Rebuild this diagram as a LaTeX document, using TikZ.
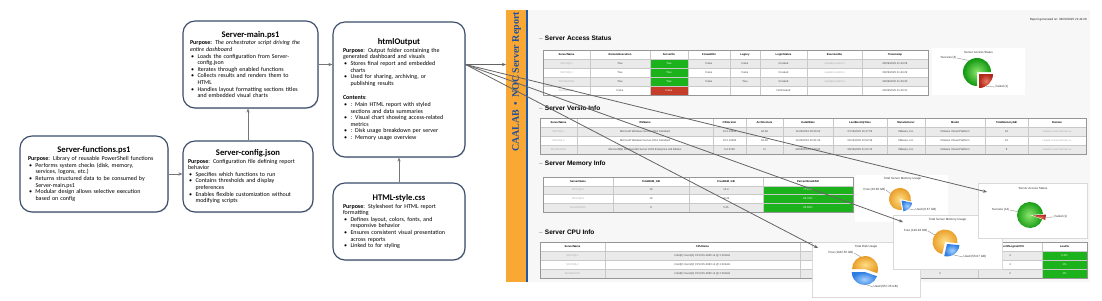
\documentclass[tikz,border=0pt]{standalone}
\usepackage{fontspec}
\setmainfont{Carlito}
\newfontfamily\arialf{Liberation Sans}
\newfontfamily\timesf{Liberation Serif}
\usetikzlibrary{arrows.meta,calc,shadows}

\definecolor{cardline}{RGB}{58,76,106}
\definecolor{connc}{RGB}{118,118,118}
\definecolor{bandorange}{RGB}{250,168,52}
\definecolor{bandblue}{RGB}{32,88,166}
\definecolor{bandtext}{RGB}{30,78,160}
\definecolor{pagebg}{RGB}{247,247,247}
\definecolor{okgreen}{RGB}{28,178,28}
\definecolor{badred}{RGB}{196,62,42}
\definecolor{rowalt}{RGB}{234,234,234}
\definecolor{gridc}{RGB}{200,200,200}
\definecolor{tabborder}{RGB}{150,150,150}
\definecolor{celltext}{RGB}{70,70,70}
\definecolor{blurtext}{RGB}{175,175,175}
\definecolor{gIn}{RGB}{140,230,110}
\definecolor{gOut}{RGB}{15,150,15}
\definecolor{rIn}{RGB}{235,120,100}
\definecolor{rOut}{RGB}{175,40,25}
\definecolor{oIn}{RGB}{255,222,135}
\definecolor{oOut}{RGB}{232,155,35}
\definecolor{bIn}{RGB}{165,208,255}
\definecolor{bOut}{RGB}{45,125,225}

\newcommand\cardtitle[1]{{\centering\fontsize{8.6}{9}\selectfont\bfseries #1\par}\vspace{1.2pt}}
\newcommand\bitem[1]{\par\noindent\hangindent=7.5pt\hangafter=1\makebox[7.5pt][l]{\hspace{1pt}\textbullet}#1}
\newcommand\bl[1]{\textcolor{blurtext}{#1}}
\newcommand\wh[1]{\textcolor{white}{#1}}
\newcommand\trow[3]{\foreach \cx/\cv [count=\ci] in {#3} {\node[cell] (#1-\ci) at (\cx,#2) {\cv};}}
\newcommand\thead[3]{\foreach \cx/\cv [count=\ci] in {#3} {\node[hcell] (#1-\ci) at (\cx,#2) {\cv};}}

\tikzset{
  card/.style={draw=cardline, line width=1.15pt, rounded corners=12pt, fill=white,
    inner sep=0pt, align=left, font=\fontsize{6}{6.6}\selectfont,
    drop shadow={opacity=0.25, shadow xshift=0.8pt, shadow yshift=-1pt}},
  conn/.style={draw=connc, line width=0.9pt, -{Stealth[length=4pt,width=3.2pt]}},
  fan/.style={draw=connc!85!black, line width=0.8pt, -{Stealth[length=4pt,width=3.2pt]}},
  cell/.style={font=\arialf\fontsize{2.7}{3}\selectfont, text=celltext, inner sep=0pt},
  hcell/.style={font=\arialf\bfseries\fontsize{2.7}{3}\selectfont, text=black, inner sep=0pt},
  sec/.style={font=\arialf\bfseries\fontsize{6.5}{7}\selectfont, anchor=west, inner sep=0pt},
  grid/.style={draw=gridc, line width=0.35pt},
  tbase/.style={fill=white, drop shadow={opacity=0.3, shadow xshift=0.8pt, shadow yshift=-0.8pt}},
  tframe/.style={draw=tabborder, line width=0.8pt},
  chartS/.style={fill=white, inner sep=0pt, anchor=north west},
  chartB/.style={chartS, draw=black!15, line width=0.4pt,
    drop shadow={opacity=0.35, shadow xshift=1.2pt, shadow yshift=-1.2pt}},
  clabel/.style={font=\arialf\fontsize{3}{3.5}\selectfont, inner sep=0.4pt, text=black!80},
  leader/.style={draw=black!55, line width=0.3pt},
  pieG/.style={inner color=gIn, outer color=gOut},
  pieR/.style={inner color=rIn, outer color=rOut},
  pieO/.style={inner color=oIn, outer color=oOut},
  pieB/.style={inner color=bIn, outer color=bOut},
}

\begin{document}
\begin{tikzpicture}[x=1pt,y=-1pt]
\useasboundingbox (0,0) rectangle (1102,300);
\fill[white] (0,0) rectangle (1102,300);

% ---------------- cards ----------------
\node[card, text width=132pt, minimum width=148pt, minimum height=76pt] (funcs) at (94,174) {%
\cardtitle{Server-functions.ps1}
\noindent\textbf{Purpose}: Library of reusable PowerShell functions
\bitem{Performs system checks (disk, memory,\newline services, logons, etc.)}
\bitem{Returns structured data to be consumed by\newline Server-main.ps1}
\bitem{Modular design allows selective execution\newline based on config}\par\vspace{3pt}};

\node[card, text width=120pt, minimum width=130pt, minimum height=71pt] (config) at (248,176.5) {%
\cardtitle{Server-config.json}
\noindent\textbf{Purpose}: Configuration file defining report\newline behavior
\bitem{Specifies which functions to run}
\bitem{Contains thresholds and display\newline preferences}
\bitem{Enables flexible customization without\newline modifying scripts}\par\vspace{3pt}};

\node[card, text width=121pt, minimum width=135pt, minimum height=87pt] (main) at (250.5,64.5) {%
\cardtitle{Server-main.ps1}
\noindent\textbf{Purpose:} \textit{The orchestrator script driving the\newline entire dashboard}
\bitem{Loads the configuration from Server-\newline config.json}
\bitem{Iterates through enabled functions}
\bitem{Collects results and renders them to\newline HTML}
\bitem{Handles layout formatting sections titles\newline and embedded visual charts}\par\vspace{6pt}};

\node[card, text width=112pt, minimum width=132pt, minimum height=135pt] (htmlout) at (399,89.5) {%
\cardtitle{htmlOutput}
\noindent\textbf{Purpose}: Output folder containing the\newline generated dashboard and visuals
\bitem{Stores final report and embedded\newline charts}
\bitem{Used for sharing, archiving, or\newline publishing results}
\par\vspace{8pt}\noindent\textbf{Contents}:
\bitem{: Main HTML report with styled\newline sections and data summaries}
\bitem{: Visual chart showing access-related\newline metrics}
\bitem{: Disk usage breakdown per server}
\bitem{: Memory usage overview}\par\vspace{5pt}};

\node[card, text width=112pt, minimum width=132pt, minimum height=77pt] (css) at (399,221.5) {%
\cardtitle{HTML-style.css}
\noindent\textbf{Purpose}: Stylesheet for HTML report\newline formatting
\bitem{Defines layout, colors, fonts, and\newline responsive behavior}
\bitem{Ensures consistent visual presentation\newline across reports}
\bitem{Linked to for styling}};

% ---------------- report screenshot ----------------
\node[fill=pagebg, minimum width=563pt, minimum height=272pt, anchor=north west, inner sep=0pt] (report) at (527,10) {};
\node[fill=bandorange, minimum width=20pt, minimum height=272pt, anchor=north west, inner sep=0pt] (band) at (506,10) {};
\fill[bandblue] (525.5,10) rectangle (527.5,282);
\node[rotate=90, font=\timesf\bfseries\fontsize{10}{12}\selectfont, text=bandtext, inner sep=0pt] (bandtitle) at (516.5,82) {CAALAB \,•\, NOC Server Report};

\node[cell, anchor=east, font=\arialf\fontsize{3}{3.5}\selectfont, text=black!85] (gen) at (1087,20) {Report generated on: 08/29/2025 21:44:28};

\node[sec] (sec1) at (539,38) {{\mdseries\color{gray}–}\,\,Server Access Status};
\node[sec] (sec2) at (539,108) {{\mdseries\color{gray}–}\,\,Server Versio Info};
\node[sec] (sec3) at (539,164) {{\mdseries\color{gray}–}\,\,Server Memory Info};
\node[sec] (sec4) at (539,232) {{\mdseries\color{gray}–}\,\,Server CPU Info};

% Table 1: access
\path[tbase] (543,50) rectangle (928,95);
\fill[rowalt] (543,59) rectangle (928,68);
\fill[rowalt] (543,77) rectangle (928,86);
\fill[okgreen] (650,59) rectangle (688,86);
\fill[badred] (650,86) rectangle (688,95);
\foreach \gx in {590,650,688,730,760,807,862} \draw[grid] (\gx,50) -- (\gx,95);
\foreach \gy in {59,68,77,86} \draw[grid] (543,\gy) -- (928,\gy);
\draw[tframe] (543,50) rectangle (928,95);
\thead{ta0}{54.5}{566.5/ServerName, 620/RemoteExecution, 669/ServerOn, 709/FirewallOn, 745/Legacy, 783.5/LoginStatus, 834.5/ExecutedAs, 895/Timestamp}
\trow{ta1}{63.5}{566.5/{\bl{SRVSQL1}}, 620/True, 669/{\wh{True}}, 709/False, 745/False, 783.5/Created, 834.5/{\bl{caalab\textbackslash svcadmin}}, 895/{08/29/2025 21:44:28}}
\trow{ta2}{72.5}{566.5/{\bl{SRVSQL2}}, 620/True, 669/{\wh{True}}, 709/False, 745/False, 783.5/Created, 834.5/{\bl{caalab\textbackslash svcadmin}}, 895/{08/29/2025 21:44:29}}
\trow{ta3}{81.5}{566.5/{\bl{DevWin2003}}, 620/True, 669/{\wh{True}}, 709/False, 745/True, 783.5/Created, 834.5/{\bl{caalab\textbackslash svcadmin}}, 895/{08/29/2025 21:44:30}}
\trow{ta4}{90.5}{566.5/{\bl{DevWin2012}}, 620/False, 669/{\wh{False}}, 783.5/NotCreated, 895/{08/29/2025 21:44:31}}

% small access chart
\node[chartS, minimum width=93pt, minimum height=47pt] (accS) at (932,48) {};
\node[clabel] (accS-t) at (978.5,52.5) {Server Access Status};
\coordinate (accS-c) at (977,72);
\shade[pieG] (accS-c) -- ++(90:14) arc[start angle=90,end angle=360,radius=14] -- cycle;
\shade[pieR] ($(accS-c)+(2,2)$) -- ++(0:14) arc[start angle=0,end angle=90,radius=14] -- cycle;
\node[clabel, anchor=east] (accS-l1) at (957,58) {Success (3)};
\draw[leader] (accS-l1.east) -- ($(accS-c)+(235:14)$);
\node[clabel, anchor=west] (accS-l2) at (995,87) {Failed (1)};
\draw[leader] (accS-l2.west) -- ($(accS-c)+(2,2)+(60:14)$);

% Table 2: version
\path[tbase] (540,118) rectangle (1086,154);
\fill[rowalt] (540,127) rectangle (1086,136);
\fill[rowalt] (540,145) rectangle (1086,154);
\foreach \gx in {577,713,746,783,833,887,925,985,1028} \draw[grid] (\gx,118) -- (\gx,154);
\foreach \gy in {127,136,145} \draw[grid] (540,\gy) -- (1086,\gy);
\draw[tframe] (540,118) rectangle (1086,154);
\thead{tb0}{122.5}{558.5/ServerName, 645/OSName, 729.5/OSVersion, 764.5/Architecture, 808/InstallDate, 860/LastBootUpTime, 906/Manufacturer, 955/Model, 1006.5/TotalMemoryGB, 1057/Domain}
\trow{tb1}{131.5}{558.5/{\bl{SRVSQL1}}, 645/Microsoft Windows Server 2016 Standard, 729.5/10.0.14393, 764.5/64-bit, 808/{11/29/2016 09:25:52}, 860/{07/16/2025 16:17:55}, 906/{VMware, Inc.}, 955/VMware Virtual Platform, 1006.5/16, 1057/{\bl{caalab.ocean.domain.xx}}}
\trow{tb2}{140.5}{558.5/{\bl{SRVSQL2}}, 645/Microsoft Windows Server 2016 Standard, 729.5/10.0.14393, 764.5/64-bit, 808/{11/29/2016 09:41:26}, 860/{06/12/2025 00:52:58}, 906/{VMware, Inc.}, 955/VMware Virtual Platform, 1006.5/16, 1057/{\bl{caalab.ocean.domain.xx}}}
\trow{tb3}{149.5}{558.5/{\bl{DevWin2003}}, 645/Microsoft(R) Windows(R) Server 2003 Enterprise x64 Edition, 729.5/5.2.3790, 764.5/N/A, 808/{08/08/2023 14:29:20}, 860/{08/19/2025 21:02:15}, 906/{VMware, Inc.}, 955/VMware Virtual Platform, 1006.5/8, 1057/{\bl{caalab.ocean.domain.xx}}}

% Table 3: memory
\path[tbase] (543,177) rectangle (853,212);
\fill[rowalt] (543,186) rectangle (853,194);
\fill[rowalt] (543,203) rectangle (853,212);
\fill[okgreen] (763,186) rectangle (853,212);
\foreach \gx in {613,689,763} \draw[grid] (\gx,177) -- (\gx,212);
\foreach \gy in {186,194,203} \draw[grid] (543,\gy) -- (853,\gy);
\draw[tframe] (543,177) rectangle (853,212);
\thead{tc0}{181.5}{578/ServerName, 651/TotalRAM\_GB, 726/FreeRAM\_GB, 808/PercentFreeRAM}
\trow{tc1}{190}{578/{\bl{SRVSQL1}}, 651/16, 726/12.4, 808/{\wh{77.47\%}}}
\trow{tc2}{198.5}{578/{\bl{SRVSQL2}}, 651/16, 726/13.24, 808/{\wh{82.74\%}}}
\trow{tc3}{207.5}{578/{\bl{DevWin2003}}, 651/8, 726/5.25, 808/{\wh{65.60\%}}}

% small memory chart
\node[chartS, minimum width=93pt, minimum height=47pt] (memS) at (855,175) {};
\node[clabel] (memS-t) at (902.5,178.5) {Total Server Memory Usage};
\coordinate (memS-c) at (900,199);
\shade[pieO] (memS-c) -- ++(80:11) arc[start angle=80,end angle=372,radius=11] -- cycle;
\shade[pieB] ($(memS-c)+(1.5,1.5)$) -- ++(12:11) arc[start angle=12,end angle=80,radius=11] -- cycle;
\node[clabel, anchor=east] (memS-l1) at (886,190) {Free (28.60 GB)};
\draw[leader] (memS-l1.east) -- ($(memS-c)+(210:11)$);
\node[clabel, anchor=west] (memS-l2) at (915,210) {Used (6.67 GB)};
\draw[leader] (memS-l2.west) -- ($(memS-c)+(1.5,1.5)+(50:11)$);

% Table 4: CPU (cells hidden under the charts are left out)
\path[tbase] (540,242) rectangle (1087,278);
\fill[rowalt] (540,251) rectangle (1087,260);
\fill[rowalt] (540,269) rectangle (1087,278);
\fill[okgreen] (1042,251) rectangle (1087,278);
\foreach \gx in {605,800,918,978,1042} \draw[grid] (\gx,242) -- (\gx,278);
\foreach \gy in {251,260,269} \draw[grid] (540,\gy) -- (1087,\gy);
\draw[tframe] (540,242) rectangle (1087,278);
\thead{td0}{246.5}{572.5/ServerName, 702.5/CPUName, 1010/NumberOfLogicalCPU, 1064.5/Load\%}
\trow{td1}{255.5}{572.5/{\bl{SRVSQL1}}, 702.5/{Intel(R) Xeon(R) CPU E5-2660 v4 @ 2.20GHz}, 1010/4, 1064.5/{\wh{5.3\%}}}
\trow{td2}{264.5}{572.5/{\bl{SRVSQL2}}, 702.5/{Intel(R) Xeon(R) CPU E5-2660 v4 @ 2.20GHz}, 1010/4, 1064.5/{\wh{1\%}}}
\trow{td3}{273.5}{572.5/{\bl{DevWin2003}}, 702.5/{Intel(R) Xeon(R) CPU E5-2660 v4 @ 2.20GHz}, 940/2, 1010/2, 1064.5/{\wh{1\%}}}

% overlaid charts: disk
\node[chartB, minimum width=108pt, minimum height=55pt] (disk) at (812,242) {};
\node[clabel] (disk-t) at (866,246.5) {Total Disk Usage};
\coordinate (disk-c) at (865,269);
\shade[pieO] (disk-c) -- ++(180:13) arc[start angle=180,end angle=379,radius=13] -- cycle;
\shade[pieB] ($(disk-c)+(-0.3,3)$) -- ++(19:13) arc[start angle=19,end angle=180,radius=13] -- cycle;
\node[clabel, anchor=east] (disk-l1) at (854,253) {Free (1182.55 GB)};
\draw[leader] (disk-l1.east) -- ($(disk-c)+(250:13)$);
\node[clabel, anchor=west] (disk-l2) at (873,287) {Used (957.25 GB)};
\draw[leader] (disk-l2.west) -- ($(disk-c)+(-0.3,3)+(80:13)$);

% memory big
\node[chartB, minimum width=109pt, minimum height=54pt] (memB) at (893,215) {};
\node[clabel] (memB-t) at (947.5,219.5) {Total Server Memory Usage};
\coordinate (memB-c) at (945,242);
\shade[pieO] (memB-c) -- ++(103:12.5) arc[start angle=103,end angle=365,radius=12.5] -- cycle;
\shade[pieB] ($(memB-c)+(2,2)$) -- ++(5:12.5) arc[start angle=5,end angle=103,radius=12.5] -- cycle;
\node[clabel, anchor=east] (memB-l1) at (928,231) {Free (149.93 GB)};
\draw[leader] (memB-l1.east) -- ($(memB-c)+(215:12.5)$);
\node[clabel, anchor=west] (memB-l2) at (963,257) {Used (56.07 GB)};
\draw[leader] (memB-l2.west) -- ($(memB-c)+(2,2)+(60:12.5)$);

% access big
\node[chartB, minimum width=109pt, minimum height=55pt] (accB) at (978,183) {};
\node[clabel] (accB-t) at (1033,188) {Server Access Status};
\coordinate (accB-c) at (1030,215);
\shade[pieG] (accB-c) -- ++(20:13) arc[start angle=20,end angle=356,radius=13] -- cycle;
\shade[pieR] ($(accB-c)+(3,0.5)$) -- ++(-4:13) arc[start angle=-4,end angle=20,radius=13] -- cycle;
\node[clabel, anchor=east] (accB-l1) at (1010,210) {Success (14)};
\draw[leader] (accB-l1.east) -- ($(accB-c)+(195:13)$);
\node[clabel, anchor=west] (accB-l2) at (1054,217) {Failed (1)};
\draw[leader] (accB-l2.west) -- ($(accB-c)+(3,0.5)+(8:13)$);

% ---------------- connectors ----------------
\draw[conn] (funcs.east) -- (funcs.east -| config.west);
\draw[conn] (config.north) -- (config.north |- main.south);
\draw[conn] (main.east) -- (main.east -| htmlout.west);
\draw[conn] (css.north) -- (htmlout.south);

\coordinate (fanstart) at (htmlout.east |- main.east);
\coordinate (tAcc) at ($(accB.north west)+(9,9)$);
\coordinate (tMem) at ($(memB.north west)+(10,7)$);
\coordinate (tDisk) at ($(disk.north west)+(6,6)$);
\draw[fan] (fanstart) -- (fanstart -| band.west);
\draw[fan] (fanstart) -- (tAcc);
\draw[fan] (fanstart) -- (tMem);
\draw[fan] (fanstart) -- (tDisk);
\end{tikzpicture}
\end{document}
